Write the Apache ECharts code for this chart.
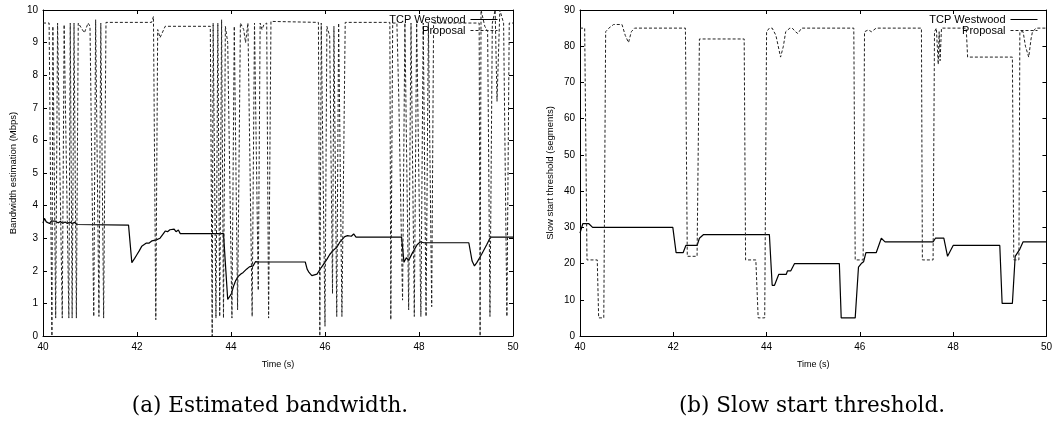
<!DOCTYPE html>
<html>
<head>
    <meta charset="UTF-8">
    <title>Westwood vs Proposal</title>
    <script type="text/javascript" src="https://cdn.jsdelivr.net/npm/echarts@6/dist/echarts.min.js"></script>
    <style>
        body { margin: 0; background: #fff; }
        #chart { width: 1055px; height: 435px; }
    </style>
</head>
<body>
<div id="chart"></div>
<script>
    // (a) bandwidth estimate, [time s, Mbps]
    var westwoodBw = [
        [40.00,3.46],[40.03,3.61],[40.07,3.50],[40.10,3.52],[40.14,3.45],[40.18,3.53],[40.22,3.48],
        [40.27,3.52],[40.32,3.47],[40.37,3.51],[40.42,3.46],[40.47,3.50],[40.52,3.45],[40.57,3.50],
        [40.62,3.44],[40.67,3.49],[40.72,3.42],[40.75,3.40],[41.82,3.40],[41.89,2.25],[41.95,2.38],
        [42.00,2.50],[42.05,2.62],[42.10,2.75],[42.14,2.72],[42.20,2.85],[42.26,2.85],[42.32,2.92],
        [42.41,2.95],[42.49,3.00],[42.55,3.12],[42.60,3.22],[42.65,3.20],[42.70,3.26],[42.74,3.20],
        [42.79,3.28],[42.83,3.20],[42.88,3.25],[42.92,3.14],[43.84,3.14],[43.93,1.12],[43.97,1.10],
        [44.01,1.30],[44.05,1.51],[44.10,1.70],[44.15,1.82],[44.21,1.90],[44.26,1.95],[44.33,2.05],
        [44.39,2.12],[44.47,2.15],[44.52,2.28],[44.55,2.33],[44.60,2.27],[45.58,2.27],[45.62,2.05],
        [45.66,1.95],[45.72,1.85],[45.76,1.80],[45.83,1.90],[45.92,2.10],[46.04,2.35],[46.10,2.50],
        [46.17,2.62],[46.25,2.72],[46.32,2.89],[46.42,3.05],[46.48,3.08],[46.52,3.12],[46.56,3.06],
        [46.61,3.13],[46.66,3.03],[47.63,3.03],[47.68,2.26],[47.73,2.40],[47.78,2.32],[47.86,2.55],
        [47.96,2.80],[48.03,2.89],[48.07,2.92],[48.10,2.86],[49.06,2.86],[49.13,2.30],[49.18,2.15],
        [49.23,2.25],[49.33,2.50],[49.44,2.80],[49.52,3.03],[50.00,3.03]
    ];
    var proposalBw = [
        [40.00,9.60],[40.13,9.60],[40.19,0.00],[40.21,9.50],[40.27,0.55],[40.31,9.60],[40.41,0.55],
        [40.45,9.55],[40.55,0.55],[40.58,9.60],[40.62,0.55],[40.66,9.60],[40.71,0.55],[40.75,9.60],
        [40.79,9.60],[40.88,9.30],[40.96,9.60],[41.00,9.50],[41.08,0.60],[41.12,9.70],[41.19,0.60],
        [41.23,9.60],[41.29,0.55],[41.34,9.62],[42.31,9.62],[42.35,9.80],[42.40,0.50],[42.44,9.40],
        [42.49,9.15],[42.60,9.50],[43.56,9.50],[43.60,0.00],[43.62,9.60],[43.68,0.55],[43.72,9.60],
        [43.76,0.60],[43.80,9.70],[43.84,0.55],[43.88,9.50],[43.93,9.00],[44.02,0.55],[44.07,9.50],
        [44.14,0.80],[44.20,9.60],[44.27,9.40],[44.31,9.00],[44.36,9.60],[44.45,0.60],[44.50,9.60],
        [44.58,1.40],[44.62,9.60],[44.66,9.40],[44.70,9.55],[44.76,9.60],[44.80,0.55],[44.85,9.65],
        [45.86,9.62],[45.89,0.00],[45.92,9.60],[46.00,0.30],[46.04,9.50],[46.10,9.20],[46.16,1.30],
        [46.19,9.50],[46.25,0.60],[46.29,9.60],[46.36,0.60],[46.43,9.62],[47.38,9.62],[47.40,0.50],
        [47.44,9.60],[47.53,9.60],[47.57,7.30],[47.65,1.10],[47.70,9.60],[47.78,0.80],[47.83,9.60],
        [47.90,0.60],[47.95,9.60],[48.04,0.60],[48.09,9.60],[48.15,0.60],[48.20,9.60],[48.27,0.90],
        [48.31,9.60],[49.28,9.60],[49.30,0.00],[49.32,10.0],[49.40,9.50],[49.46,9.35],[49.51,0.60],
        [49.56,9.60],[49.62,10.0],[49.66,7.20],[49.72,10.0],[49.80,9.60],[49.87,0.60],[49.92,9.60],
        [50.00,9.60]
    ];

    // (b) slow start threshold, [time s, segments]
    var westwoodSsth = [
        [40.00,28.4],[40.06,31],[40.19,31],[40.27,30],[41.99,30],[42.06,23],[42.21,23],[42.27,25],
        [42.51,25],[42.56,27],[42.65,28],[44.06,28],[44.12,14],[44.17,14],[44.26,17],[44.42,17],
        [44.45,18],[44.52,18],[44.60,20],[45.56,20],[45.60,5],[45.90,5],[45.97,19],[46.03,20],
        [46.08,20.5],[46.13,23],[46.35,23],[46.46,27],[46.54,26],[47.57,26],[47.62,27],[47.80,27],
        [47.88,22],[48.00,25],[49.00,25],[49.05,9],[49.27,9],[49.33,22],[49.43,24],[49.50,26],
        [50.00,26]
    ];
    var proposalSsth = [
        [40.00,85],[40.10,85],[40.15,21],[40.37,21],[40.40,5],[40.51,5],[40.55,84],[40.62,85],
        [40.72,86],[40.90,86],[40.97,83],[41.04,81],[41.10,84],[41.17,85],[42.26,85],[42.30,22],
        [42.51,22],[42.56,82],[43.52,82],[43.55,21],[43.77,21],[43.82,5],[43.96,5],[44.00,84],
        [44.06,85],[44.12,85],[44.20,83],[44.30,77],[44.36,80],[44.41,84],[44.50,85],[44.55,85],
        [44.62,84],[44.67,83.5],[44.75,85],[45.87,85],[45.90,21],[46.07,21],[46.10,84],[46.18,84.5],
        [46.25,84],[46.35,85],[47.32,85],[47.34,21],[47.57,21],[47.60,84],[47.64,85],[47.68,75],
        [47.70,84],[47.72,76],[47.75,85],[48.28,85],[48.31,77],[49.27,77],[49.30,21],[49.41,21],
        [49.43,84],[49.50,84],[49.55,80],[49.62,77],[49.67,82],[49.70,84],[49.78,85],[50.00,85]
    ];

    var seriesNames = ['TCP Westwood', 'Proposal'];
    var captions = ['(a) Estimated bandwidth.', '(b) Slow start threshold.'];

    var sans = 'Liberation Sans';

    function xAxisFor(grid, top) {
        return {
            type: 'value', gridIndex: grid, min: 40, max: 50, interval: 2,
            position: top ? 'top' : 'bottom',
            name: top ? '' : 'Time (s)', nameLocation: 'middle', nameGap: 24,
            nameTextStyle: {fontFamily: sans, fontSize: 9, color: '#000'},
            axisLine: {onZero: false, lineStyle: {color: '#000', width: 1}},
            axisTick: {inside: true, length: 4, lineStyle: {color: '#000'}},
            axisLabel: {show: !top, fontFamily: sans, fontSize: 10, color: '#000', margin: 6},
            splitLine: {show: false}
        };
    }

    function yAxisFor(grid, right, max, interval, name) {
        return {
            type: 'value', gridIndex: grid, min: 0, max: max, interval: interval,
            position: right ? 'right' : 'left',
            name: right ? '' : name, nameLocation: 'middle', nameGap: 25,
            nameTextStyle: {fontFamily: sans, fontSize: 9.5, color: '#000'},
            axisLine: {onZero: false, lineStyle: {color: '#000', width: 1}},
            axisTick: {inside: true, length: 4, lineStyle: {color: '#000'}},
            axisLabel: {show: !right, fontFamily: sans, fontSize: 10, color: '#000', margin: 5},
            splitLine: {show: false}
        };
    }

    function lineSeries(name, data, xi, yi) {
        var dashed = name == 'Proposal';
        return {
            name: name, type: 'line', data: data,
            xAxisIndex: xi, yAxisIndex: yi,
            symbol: 'none', showSymbol: false,
            lineStyle: {
                color: dashed ? '#222' : '#000',
                width: dashed ? 1 : 1.2,
                type: dashed ? [3, 2] : 'solid'
            },
            itemStyle: {color: '#000'}
        };
    }

    // legend: text on the left, line sample on the right, no marker
    function legendAt(right) {
        return {
            orient: 'vertical', right: right, top: 9, align: 'right',
            itemWidth: 27, itemHeight: 6, itemGap: 0, padding: 5,
            data: seriesNames,
            itemStyle: {opacity: 0},
            lineStyle: {width: 1},
            textStyle: {fontFamily: sans, fontSize: 11, color: '#000', lineHeight: 11}
        };
    }

    var chart = echarts.init(document.getElementById('chart'));
    chart.setOption({
        animation: false,
        backgroundColor: '#fff',
        grid: [
            {left: 43, right: 542, top: 10, bottom: 99},
            {left: 580, right: 4, top: 10, bottom: 99}
        ],
        xAxis: [xAxisFor(0, false), xAxisFor(0, true), xAxisFor(1, false), xAxisFor(1, true)],
        yAxis: [
            yAxisFor(0, false, 10, 1, 'Bandwidth estimation (Mbps)'),
            yAxisFor(0, true, 10, 1),
            yAxisFor(1, false, 90, 10, 'Slow start threshold (segments)'),
            yAxisFor(1, true, 90, 10)
        ],
        legend: [legendAt(552), legendAt(12)],
        series: [
            lineSeries('TCP Westwood', westwoodBw, 0, 0),
            lineSeries('Proposal', proposalBw, 0, 0),
            lineSeries('TCP Westwood', westwoodSsth, 2, 2),
            lineSeries('Proposal', proposalSsth, 2, 2)
        ],
        graphic: [
            {type: 'text', x: 270, y: 395, style: {text: captions[0], font: '21.5px "DejaVu Serif"', fill: '#000', align: 'center', textAlign: 'center'}},
            {type: 'text', x: 812, y: 395, style: {text: captions[1], font: '21.5px "DejaVu Serif"', fill: '#000', align: 'center', textAlign: 'center'}}
        ]
    });
</script>
</body>
</html>
